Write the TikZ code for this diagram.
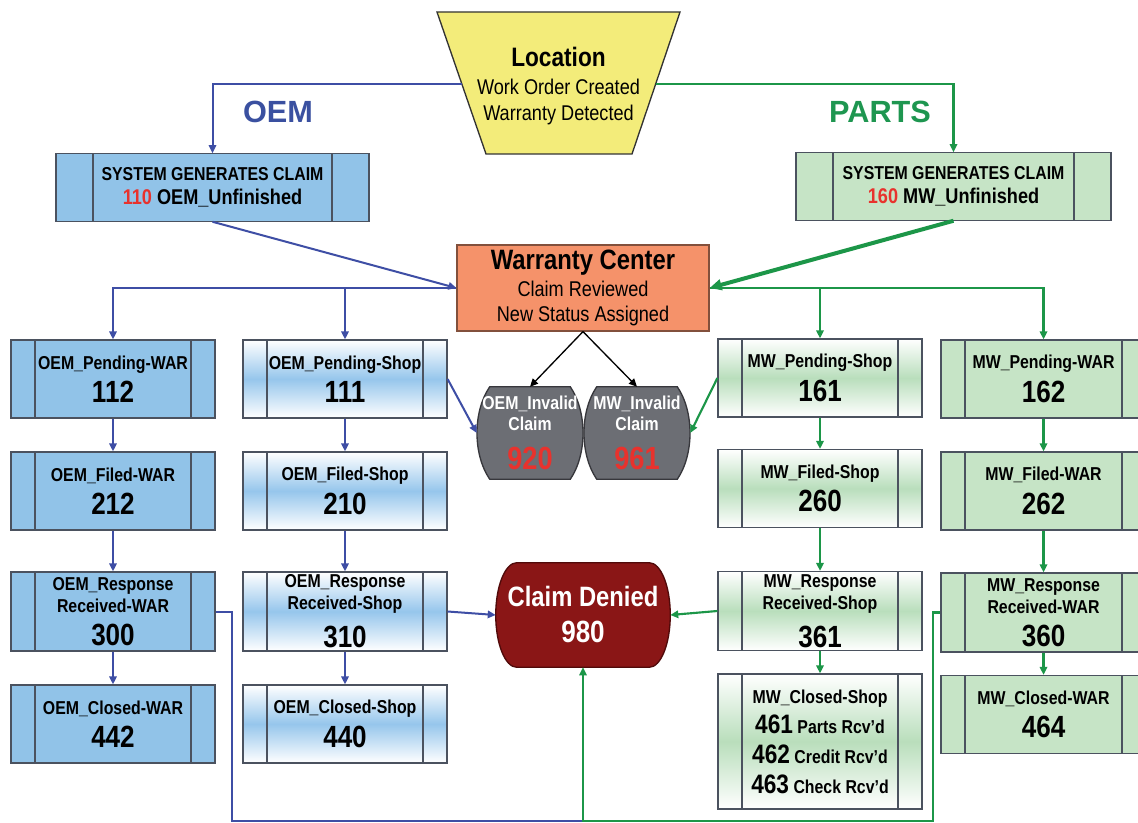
\documentclass[tikz,border=0pt]{standalone}
\usepackage{fontspec}
\setmainfont{Liberation Sans}[FakeStretch=0.85]
\newfontfamily\widefont{Liberation Sans}
\usetikzlibrary{arrows.meta,calc}
\pgfdeclarelayer{back}
\pgfsetlayers{back,main}
\definecolor{boxline}{RGB}{75,82,95}
\definecolor{bluefill}{RGB}{145,195,232}
\definecolor{blueshade}{RGB}{150,198,236}
\definecolor{greenfill}{RGB}{198,228,198}
\definecolor{greenshade}{RGB}{185,222,188}
\definecolor{lineblue}{RGB}{62,78,165}
\definecolor{linegreen}{RGB}{28,150,72}
\definecolor{lblblue}{RGB}{58,80,160}
\definecolor{lblgreen}{RGB}{30,150,80}
\definecolor{yellowfill}{RGB}{243,236,122}
\definecolor{salmon}{RGB}{245,146,106}
\definecolor{salmonline}{RGB}{130,80,60}
\definecolor{invgray}{RGB}{108,110,116}
\definecolor{invline}{RGB}{55,55,60}
\definecolor{cdred}{RGB}{138,22,22}
\definecolor{cdline}{RGB}{80,10,10}
\definecolor{redtxt}{RGB}{232,50,45}
\newcommand\fs[2]{\fontsize{#1}{#2}\selectfont}
\newcommand\numf{\fs{23}{25}}
\tikzset{
  base/.style={draw=boxline, line width=0.9pt, inner sep=0pt, align=center, text=black},
  divs/.style={path picture={\draw[boxline, line width=0.9pt]
      ([xshift=#1]path picture bounding box.north west) -- ([xshift=#1]path picture bounding box.south west)
      ([xshift=-#1]path picture bounding box.north east) -- ([xshift=-#1]path picture bounding box.south east);}},
  state/.style={base, divs=18pt, minimum width=153pt, minimum height=58.5pt, font=\fs{14}{25}\bfseries},
  statethree/.style={state, minimum height=59.25pt, font=\fs{14}{16.5}\bfseries},
  widebox/.style={minimum width=153.75pt},
  bsolid/.style={fill=bluefill},
  bshade/.style={top color=white, bottom color=white, middle color=blueshade},
  gsolid/.style={fill=greenfill},
  gshade/.style={top color=white, bottom color=white, middle color=greenshade},
  sysbox/.style={base, divs=27.75pt, minimum height=50.5pt, font=\fs{14}{18}\bfseries},
  tip/.style={-{Triangle[length=6pt,width=5.5pt]}},
  bl/.style={lineblue, line width=1.5pt, tip},
  blnt/.style={lineblue, line width=1.5pt},
  gr/.style={linegreen, line width=1.6pt, tip},
  blk/.style={black, line width=1pt, tip},
  invnode/.style={inner sep=0pt, minimum width=79.5pt, minimum height=69pt, align=center, text=white, font=\fs{14}{15.75}\bfseries},
}
\begin{document}
\begin{tikzpicture}[x=0.75pt,y=-0.75pt]
\useasboundingbox (0,0) rectangle (1138,823);

% Location
\filldraw[fill=yellowfill, draw=black!80, line width=1pt] (437,12) -- (680,12) -- (632,154) -- (486,154) -- cycle;
\node[align=center, font=\fs{16}{19.5}] (loc) at (558.5,86) {{\fs{20}{19.5}\bfseries Location}\\[1.5pt]Work Order Created\\Warranty Detected};
\coordinate (locL) at (461.8,84);
\coordinate (locR) at (655.7,84);

% labels
\node[font=\widefont\fs{23}{23}\bfseries, text=lblblue] (oemlbl) at (278,112) {OEM};
\node[font=\widefont\fs{23}{23}\bfseries, text=lblgreen] (partslbl) at (880,112) {PARTS};

% system boxes
\node[sysbox, bsolid, minimum width=234.75pt] (oemsys) at (212.5,187.5) {SYSTEM GENERATES CLAIM\\{\fs{16}{18}\textcolor{redtxt}{110} OEM\_Unfinished}};
\node[sysbox, gsolid, minimum width=236.25pt] (mwsys) at (953.5,186.5) {SYSTEM GENERATES CLAIM\\{\fs{16}{18}\textcolor{redtxt}{160} MW\_Unfinished}};

% warranty center
\node[draw=salmonline, line width=0.9pt, fill=salmon, inner sep=0pt, minimum width=189pt, minimum height=64.5pt, align=center, font=\fs{16}{18.75}] (wc) at (583,288) {{\fs{21}{18.75}\bfseries Warranty Center}\\[2pt]Claim Reviewed\\New Status Assigned};

% OEM WAR column
\node[state, bsolid] (s112) at (113,379) {OEM\_Pending-WAR\\{\numf 112}};
\node[state, bsolid] (s212) at (113,491) {OEM\_Filed-WAR\\{\numf 212}};
\node[statethree, bsolid] (s300) at (113,611.5) {OEM\_Response\\Received-WAR\\[8.5pt]{\numf 300}};
\node[state, bsolid] (s442) at (113,724) {OEM\_Closed-WAR\\{\numf 442}};

% OEM Shop column
\node[state, bshade] (s111) at (345,379) {OEM\_Pending-Shop\\{\numf 111}};
\node[state, bshade] (s210) at (345,491) {OEM\_Filed-Shop\\{\numf 210}};
\node[statethree, bshade] (s310) at (345,611.5) {OEM\_Response\\Received-Shop\\[8.5pt]{\numf 310}};
\node[state, bshade] (s440) at (345,724) {OEM\_Closed-Shop\\{\numf 440}};

% MW Shop column
\node[state, gshade] (s161) at (820,378) {MW\_Pending-Shop\\{\numf 161}};
\node[state, gshade] (s260) at (820,488.5) {MW\_Filed-Shop\\{\numf 260}};
\node[statethree, gshade] (s361) at (820,611) {MW\_Response\\Received-Shop\\[8.5pt]{\numf 361}};
\node[state, gshade, minimum height=101.25pt, font=\fs{14}{22.5}\bfseries] (s461) at (820,741.5)
  {MW\_Closed-Shop\\{\fs{20}{22.5}461} Parts Rcv’d\\{\fs{20}{22.5}462} Credit Rcv’d\\{\fs{20}{22.5}463} Check Rcv’d};

% MW WAR column
\node[state, widebox, gsolid] (s162) at (1043.5,379) {MW\_Pending-WAR\\{\numf 162}};
\node[state, widebox, gsolid] (s262) at (1043.5,491) {MW\_Filed-WAR\\{\numf 262}};
\node[statethree, widebox, gsolid] (s360) at (1043.5,612.5) {MW\_Response\\Received-WAR\\[8.5pt]{\numf 360}};
\node[state, widebox, gsolid] (s464) at (1043.5,714.5) {MW\_Closed-WAR\\{\numf 464}};

% invalid claims
\node[invnode] (inv1) at (530,433) {OEM\_Invalid\\Claim\\[11pt]{\fs{24}{15.75}\textcolor{redtxt}{920}}};
\node[invnode] (inv2) at (637,433) {MW\_Invalid\\Claim\\[11pt]{\fs{24}{15.75}\textcolor{redtxt}{961}}};

% claim denied
\node[inner sep=0pt, minimum width=130.5pt, minimum height=78pt, align=center, text=white, font=\fs{21}{27}\bfseries] (cd) at (583,615) {Claim Denied\\{\fs{23}{27}980}};

\begin{pgfonlayer}{back}
\fill[white] (0,0) rectangle (1138,823);
\foreach \n in {inv1,inv2} {
  \filldraw[fill=invgray, draw=invline, line width=1pt]
    ($(\n.north west)+(13,0)$) -- ($(\n.north east)+(-13,0)$)
    .. controls ($(\n.north east)+(4,25)$) and ($(\n.south east)+(4,-25)$) .. ($(\n.south east)+(-13,0)$)
    -- ($(\n.south west)+(13,0)$)
    .. controls ($(\n.south west)+(-4,-25)$) and ($(\n.north west)+(-4,25)$) .. cycle;
}
\filldraw[fill=cdred, draw=cdline, line width=1pt]
  ($(cd.north west)+(21,0)$) -- ($(cd.north east)+(-21,0)$)
  .. controls ($(cd.north east)+(-9.4,0)$) and ($(cd.east)+(0,-28.7)$) .. (cd.east)
  .. controls ($(cd.east)+(0,28.7)$) and ($(cd.south east)+(-9.4,0)$) .. ($(cd.south east)+(-21,0)$)
  -- ($(cd.south west)+(21,0)$)
  .. controls ($(cd.south west)+(9.4,0)$) and ($(cd.west)+(0,28.7)$) .. (cd.west)
  .. controls ($(cd.west)+(0,-28.7)$) and ($(cd.north west)+(9.4,0)$) .. cycle;
\end{pgfonlayer}

% connectors
\draw[bl] (locL) -| (oemsys.north);
\draw[gr, line width=2pt] (locR) -| (mwsys.north);
\draw[bl] (oemsys.south) -- (wc.west);
\draw[linegreen, line width=3pt, -{Triangle[length=9pt,width=8pt]}] (mwsys.south) -- (wc.east);
\draw[bl] (wc.west) -| (s112.north);
\draw[bl] (s111.north |- wc.west) -- (s111.north);
\draw[gr] (wc.east) -| (s162.north);
\draw[gr] (s161.north |- wc.east) -- (s161.north);
\foreach \a/\b in {s112/s212, s212/s300, s300/s442, s111/s210, s210/s310, s310/s440}
  \draw[bl] (\a.south) -- (\b.north);
\foreach \a/\b in {s161/s260, s260/s361, s361/s461, s162/s262, s262/s360, s360/s464}
  \draw[gr] (\a.south) -- (\b.north);
\draw[blk] (wc.south) -- (inv1.north);
\draw[blk] (wc.south) -- (inv2.north);
\draw[bl] (s111.east) -- (inv1.west);
\draw[gr] (s161.west) -- (inv2.east);
\draw[bl] (s310.east) -- (cd.west);
\draw[gr] (s361.west) -- (cd.east);
\coordinate (merge) at (583,821);
\draw[blnt] (s300.east) -- ++(16,0) |- (merge);
\draw[gr] (s360.west) -- ++(-7,0) |- (merge) -- (cd.south);
\end{tikzpicture}
\end{document}
